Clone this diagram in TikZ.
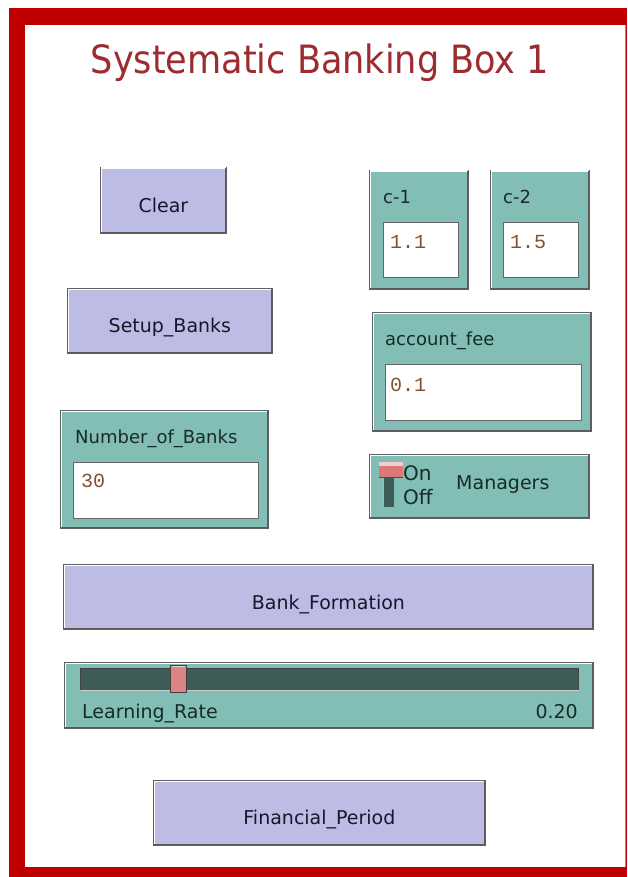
\documentclass[tikz,border=0pt]{standalone}
\usepackage{fontspec}
\setmainfont{DejaVu Sans}
\newfontfamily\titlefont{DejaVu Sans Condensed}
\newfontfamily\valfont{Liberation Mono}

\definecolor{framered}{HTML}{C00000}
\definecolor{titlered}{HTML}{9C2C30}
\definecolor{btnfill}{HTML}{BCBCE5}
\definecolor{panelteal}{HTML}{82BEB6}
\definecolor{trackcol}{HTML}{3D5B57}
\definecolor{knobcol}{HTML}{D98585}
\definecolor{ink}{HTML}{17172C}
\definecolor{labelink}{HTML}{172B29}
\definecolor{valink}{HTML}{84502F}
\definecolor{edgedark}{HTML}{5A5A5A}

\tikzset{
  widget/.style={draw=gray!75!black, line width=0.8pt, inner sep=0pt, anchor=north west},
  btn/.style={widget, fill=btnfill},
  btntext/.style={inner sep=0pt, anchor=base, text=ink, font=\fontsize{19}{19}\selectfont},
  panel/.style={widget, fill=panelteal},
  field/.style={draw=gray!80!black, line width=0.8pt, fill=white, inner sep=0pt, anchor=north west},
  lbl/.style={inner sep=0pt, anchor=base west, text=labelink, font=\fontsize{18}{18}\selectfont},
  val/.style={inner sep=0pt, anchor=base west, text=valink, font=\valfont\fontsize{20}{20}\selectfont},
}

% raised 3D edge: light on top and left, dark on bottom and right
\newcommand\raisededge[1]{%
  \draw[white, line width=1.6pt]
    ([xshift=1.3pt,yshift=1.3pt]#1.south west) -- ([xshift=1.3pt,yshift=-1.3pt]#1.north west)
    -- ([xshift=-1.3pt,yshift=-1.3pt]#1.north east);
  \draw[edgedark, line width=1.6pt]
    ([xshift=1.3pt,yshift=1.3pt]#1.south west) -- ([xshift=-1.3pt,yshift=1.3pt]#1.south east)
    -- ([xshift=-1.3pt,yshift=-1.3pt]#1.north east);
}

\begin{document}
\begin{tikzpicture}[x=1pt,y=-1pt]
\useasboundingbox (0,0) rectangle (627,877);
\fill[white] (0,0) rectangle (627,877);

% red frame
\fill[framered] (9,8) rectangle (627,877);
\fill[white] (25,25) rectangle (625,867);
\draw[framered!55, line width=1pt] (625.5,25) -- (625.5,867);

% title
\node[text=titlered, font=\titlefont\fontsize{39}{39}\selectfont, inner sep=0pt]
  (title) at (320,63) {Systematic Banking Box 1};

% buttons
\node[btn, minimum width=126, minimum height=66] (clear) at (100,167) {};
\raisededge{clear}
\node[btntext] (cleartxt) at ([yshift=-12pt]clear.center) {Clear};
\node[btn, minimum width=205, minimum height=65] (setup) at (67,288) {};
\raisededge{setup}
\node[btntext] (setuptxt) at ([yshift=-12pt]setup.center) {Setup\_Banks};
\node[btn, minimum width=530, minimum height=65] (formation) at (63,564) {};
\raisededge{formation}
\node[btntext] (formationtxt) at ([yshift=-12.5pt]formation.center) {Bank\_Formation};
\node[btn, minimum width=332, minimum height=65] (period) at (153,780) {};
\raisededge{period}
\node[btntext] (periodtxt) at ([yshift=-12pt]period.center) {Financial\_Period};

% input c-1
\node[panel, minimum width=99, minimum height=119] (c1) at (369,170) {};
\raisededge{c1}
\node[lbl] (c1lbl) at (383,204) {c-1};
\node[field, minimum width=75, minimum height=55] (c1fld) at (383,222) {};
\node[val] (c1val) at (390,248) {1.1};

% input c-2
\node[panel, minimum width=99, minimum height=119] (c2) at (490,170) {};
\raisededge{c2}
\node[lbl] (c2lbl) at (503,204) {c-2};
\node[field, minimum width=75, minimum height=55] (c2fld) at (503,222) {};
\node[val] (c2val) at (510,248) {1.5};

% input account_fee
\node[panel, minimum width=219, minimum height=119] (fee) at (372,312) {};
\raisededge{fee}
\node[lbl] (feelbl) at (385,345) {account\_fee};
\node[field, minimum width=196, minimum height=56] (feefld) at (385,364) {};
\node[val] (feeval) at (390,391) {0.1};

% input Number_of_Banks
\node[panel, minimum width=208, minimum height=118] (nbanks) at (60,410) {};
\raisededge{nbanks}
\node[lbl] (nbankslbl) at (75,443) {Number\_of\_Banks};
\node[field, minimum width=185, minimum height=56] (nbanksfld) at (73,462) {};
\node[val] (nbanksval) at (81,487) {30};

% switch Managers
\node[panel, minimum width=220, minimum height=64] (mgr) at (369,454) {};
\raisededge{mgr}
\fill[trackcol] (383,474) rectangle (394,507);
\draw[gray!60, line width=1pt] (383.5,474) -- (383.5,507);
\fill[knobcol!90!red] (379,462) rectangle (403,477);
\fill[white!60!knobcol] (379,462) rectangle (403,466);
\draw[gray!60!black, line width=0.8pt] (379,477) -- (403,477);
\node[inner sep=0pt, anchor=base west, text=labelink, font=\fontsize{20}{20}\selectfont]
  (onlbl) at (403,480) {On};
\node[inner sep=0pt, anchor=base west, text=labelink, font=\fontsize{20}{20}\selectfont]
  (offlbl) at (403,504) {Off};
\node[lbl, font=\fontsize{19}{19}\selectfont] (mgrlbl) at (456,489) {Managers};

% slider Learning_Rate
\node[panel, minimum width=529, minimum height=66] (rate) at (64,662) {};
\raisededge{rate}
\node[draw=gray!50!black, fill=trackcol, line width=0.8pt, inner sep=0pt, anchor=north west,
      minimum width=498, minimum height=22] (track) at (80,668) {};
\draw[gray!40, line width=1pt] ([yshift=0.5pt]track.south west) -- ([yshift=0.5pt]track.south east);
\node[draw=gray!50!black, fill=knobcol, line width=0.8pt, inner sep=0pt, anchor=north west,
      minimum width=16, minimum height=27] (knob) at (170,665) {};
\draw[white!60!knobcol, line width=1.2pt] ([xshift=1.5pt,yshift=-1.5pt]knob.north west) -- ([xshift=-1.5pt,yshift=-1.5pt]knob.north east);
\node[lbl, font=\fontsize{19}{19}\selectfont] (ratelbl) at (82,718) {Learning\_Rate};
\node[inner sep=0pt, anchor=base east, text=labelink, font=\fontsize{19}{19}\selectfont]
  (rateval) at (578,718) {0.20};
\end{tikzpicture}
\end{document}
